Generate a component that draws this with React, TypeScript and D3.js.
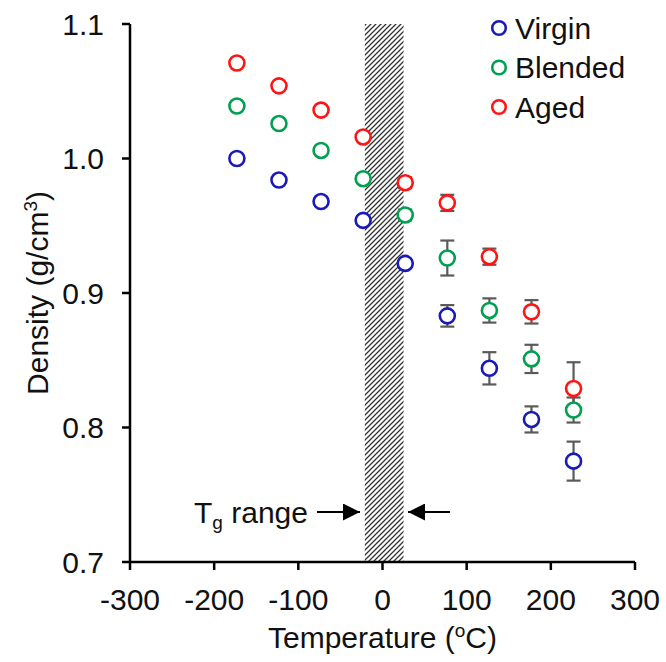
import React from "react";
import * as d3 from "d3";

const temps = [-173, -123, -73, -23, 27, 77, 127, 177, 227];
const virgin = [1.0, 0.984, 0.968, 0.954, 0.922, 0.883, 0.844, 0.806, 0.775];
const virginErr = [0.002, 0.002, 0.002, 0.003, 0.003, 0.008, 0.012, 0.0097, 0.0145];
const blended = [1.039, 1.026, 1.006, 0.985, 0.958, 0.926, 0.887, 0.851, 0.813];
const blendedErr = [0.002, 0.002, 0.002, 0.003, 0.004, 0.013, 0.009, 0.0105, 0.0093];
const aged = [1.071, 1.054, 1.036, 1.016, 0.982, 0.967, 0.927, 0.886, 0.829];
const agedErr = [0.002, 0.002, 0.002, 0.003, 0.004, 0.006, 0.006, 0.0087, 0.0195];
const seriesNames = ["Virgin", "Blended", "Aged"];
const seriesColors = ["#1a1ab8", "#00a050", "#ff1414"];
const xTicks = [-300, -200, -100, 0, 100, 200, 300];
const yTicks = [0.7, 0.8, 0.9, 1.0, 1.1];
const tgRange = [-21, 25];

const FONT = "'Liberation Sans', Arial, sans-serif";

export default function App() {
  const x = d3.scaleLinear().domain([-300, 300]).range([130, 635]);
  const y = d3.scaleLinear().domain([0.7, 1.1]).range([562, 24]);
  const series = [
    { name: seriesNames[0], color: seriesColors[0], vals: virgin, errs: virginErr },
    { name: seriesNames[1], color: seriesColors[1], vals: blended, errs: blendedErr },
    { name: seriesNames[2], color: seriesColors[2], vals: aged, errs: agedErr },
  ];
  const r = 7.5;
  const arrowY = 512;
  return (
    <svg
      width={666}
      height={662}
      style={{ position: "absolute", left: 0, top: 0, background: "#fff" }}
      fontFamily={FONT}
    >
      <defs>
        <pattern id="hatch" width={5} height={5} patternUnits="userSpaceOnUse">
          <rect width={5} height={5} fill="#fff" />
          <path d="M-1,1 L1,-1 M0,5 L5,0 M4,6 L6,4" stroke="#333" strokeWidth={1.3} />
        </pattern>
        <marker id="ah" viewBox="0 0 10 10" refX={10} refY={5} markerWidth={18} markerHeight={17} markerUnits="userSpaceOnUse" orient="auto">
          <path d="M0,0 L10,5 L0,10 Z" fill="#000" />
        </marker>
      </defs>
      <rect
        x={x(tgRange[0])}
        y={y(1.1)}
        width={x(tgRange[1]) - x(tgRange[0])}
        height={y(0.7) - y(1.1)}
        fill="url(#hatch)"
      />
      {/* axes */}
      <g stroke="#000" strokeWidth={2.5} fill="none">
        <line x1={x(-300)} x2={x(-300)} y1={y(1.1)} y2={y(0.7)} />
        <line x1={x(-300)} x2={x(300)} y1={y(0.7)} y2={y(0.7)} />
        {yTicks.map((t) => (
          <line key={"yt" + t} x1={x(-300) - 8} x2={x(-300)} y1={y(t)} y2={y(t)} />
        ))}
        {xTicks.map((t) => (
          <line key={"xt" + t} x1={x(t)} x2={x(t)} y1={y(0.7)} y2={y(0.7) + 8} />
        ))}
      </g>
      {yTicks.map((t) => (
        <text key={"yl" + t} x={104} y={y(t) + 10.5} fontSize={30} textAnchor="end" fill="#111">
          {t.toFixed(1)}
        </text>
      ))}
      {xTicks.map((t) => (
        <text key={"xl" + t} x={x(t)} y={610} fontSize={30} textAnchor="middle" fill="#111">
          {t}
        </text>
      ))}
      <text x={x(0)} y={648} fontSize={30} textAnchor="middle" fill="#111">
        Temperature (
        <tspan fontSize={19} dy={-11}>o</tspan>
        <tspan dy={11}>C)</tspan>
      </text>
      <text
        transform={`translate(48, ${(y(1.1) + y(0.7)) / 2}) rotate(-90)`}
        fontSize={30}
        textAnchor="middle"
        fill="#111"
      >
        Density (g/cm
        <tspan fontSize={19} dy={-11}>3</tspan>
        <tspan dy={11}>)</tspan>
      </text>
      {/* Tg label */}
      <text x={308} y={arrowY + 11} fontSize={30} textAnchor="end" fill="#111">
        T<tspan fontSize={19} dy={6}>g</tspan>
        <tspan dy={-6}> range</tspan>
      </text>
      <line x1={317} x2={360} y1={arrowY} y2={arrowY} stroke="#000" strokeWidth={2} markerEnd="url(#ah)" />
      <line x1={450} x2={408} y1={arrowY} y2={arrowY} stroke="#000" strokeWidth={2} markerEnd="url(#ah)" />
      {/* error bars */}
      {series.map((s) => (
        <g key={"e" + s.name} stroke="#5a5a5a" strokeWidth={2.2}>
          {temps.map((t, i) => {
            const cx = x(t);
            const y1 = y(s.vals[i] + s.errs[i]);
            const y2 = y(s.vals[i] - s.errs[i]);
            return (
              <g key={i}>
                <line x1={cx} x2={cx} y1={y1} y2={y2} />
                <line x1={cx - 7} x2={cx + 7} y1={y1} y2={y1} />
                <line x1={cx - 7} x2={cx + 7} y1={y2} y2={y2} />
              </g>
            );
          })}
        </g>
      ))}
      {/* markers */}
      {series.map((s) => (
        <g key={"m" + s.name}>
          {temps.map((t, i) => (
            <circle key={i} cx={x(t)} cy={y(s.vals[i])} r={r} fill="#fff" stroke={s.color} strokeWidth={2.6} />
          ))}
        </g>
      ))}
      {/* legend */}
      {series.map((s, i) => (
        <g key={"l" + s.name}>
          <circle cx={499} cy={28 + i * 39.5} r={6.8} fill="#fff" stroke={s.color} strokeWidth={2.6} />
          <text x={515} y={28 + i * 39.5 + 10.5} fontSize={30} fill="#111">
            {s.name}
          </text>
        </g>
      ))}
    </svg>
  );
}
